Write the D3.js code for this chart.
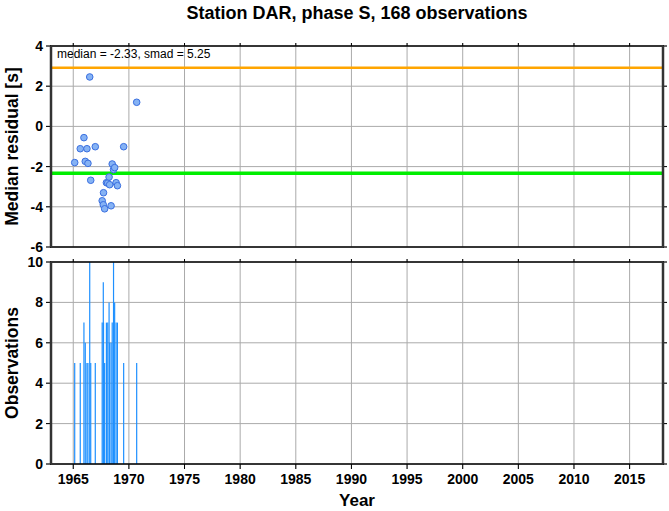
<!DOCTYPE html>
<html><head><meta charset="utf-8">
<script src="https://cdn.jsdelivr.net/npm/d3@7"></script>
<style>body{margin:0;background:#fff}svg{display:block}text{font-family:"Liberation Sans",Arial,sans-serif}</style>
</head><body>
<script>
const titleText = "Station DAR, phase S, 168 observations";
const years   = [1965.13,1965.63,1965.96,1966.08,1966.23,1966.32,1966.48,1966.57,1966.98,1967.60,1967.70,1967.72,1967.82,1967.98,1968.10,1968.22,1968.27,1968.40,1968.50,1968.62,1968.72,1968.85,1968.97,1969.53,1970.70];
const medians = [-1.80,-1.11,-0.56,-1.74,-1.11,-1.84,2.46,-2.68,-1.01,-3.70,-3.90,-3.30,-4.10,-2.80,-2.82,-2.52,-2.90,-3.95,-1.87,-2.15,-2.05,-2.80,-2.95,-1.01,1.20];
const counts  = [5,5,7,6,5,5,10,5,5,7,9,7,5,7,7,8,6,6,7,10,8,7,7,5,5];
const medianAll = -2.33, smad = 5.25;
const xTicks = [1965,1970,1975,1980,1985,1990,1995,2000,2005,2010,2015];
const yTicksTop = [4,2,0,-2,-4,-6];
const yTicksBot = [0,2,4,6,8,10];

const W=669,H=511, L=51, R=663;
const svg=d3.select("body").append("svg").attr("width",W).attr("height",H);
const x=d3.scaleLinear().domain([1963,2018]).range([L,R]);
const yT=d3.scaleLinear().domain([-6,4]).range([247,46]);
const yB=d3.scaleLinear().domain([0,10]).range([464,262]);

function panel(y, ticks, showX){
  const g=svg.append("g");
  const [y0,y1]=y.range();
  g.selectAll(".gx").data(xTicks).join("line").attr("x1",d=>x(d)).attr("x2",d=>x(d)).attr("y1",y1-3).attr("y2",y0+(showX?5:0)).attr("stroke","#aaa").attr("stroke-width",1);
  g.selectAll(".gy").data(ticks).join("line").attr("x1",L-5).attr("x2",R+4).attr("y1",d=>y(d)).attr("y2",d=>y(d)).attr("stroke","#aaa").attr("stroke-width",1);
  return g;
}
function frame(y, ticks, showX){
  const [y0,y1]=y.range();
  const g=svg.append("g");
  g.selectAll(".tl").data(ticks).join("line").attr("x1",L-5).attr("x2",L).attr("y1",d=>y(d)).attr("y2",d=>y(d)).attr("stroke","#000").attr("stroke-width",1);
  g.selectAll(".tr").data(ticks).join("line").attr("x1",R).attr("x2",R+4).attr("y1",d=>y(d)).attr("y2",d=>y(d)).attr("stroke","#000").attr("stroke-width",1);
  g.selectAll(".tt").data(xTicks).join("line").attr("x1",d=>x(d)).attr("x2",d=>x(d)).attr("y1",y1-3).attr("y2",y1).attr("stroke","#000").attr("stroke-width",1);
  if(showX) g.selectAll(".tb").data(xTicks).join("line").attr("x1",d=>x(d)).attr("x2",d=>x(d)).attr("y1",y0).attr("y2",y0+5).attr("stroke","#000").attr("stroke-width",1);
  g.append("line").attr("x1",L-1).attr("x2",R+1).attr("y1",y1).attr("y2",y1).attr("stroke","#000").attr("stroke-width",1.5);
  g.append("line").attr("x1",L-1).attr("x2",R+1).attr("y1",y0).attr("y2",y0).attr("stroke","#000").attr("stroke-width",1.5);
  g.append("line").attr("x1",L).attr("x2",L).attr("y1",y1).attr("y2",y0).attr("stroke","#333").attr("stroke-width",2.5);
  g.append("line").attr("x1",R).attr("x2",R).attr("y1",y1).attr("y2",y0).attr("stroke","#333").attr("stroke-width",2.5);
  g.selectAll(".lab").data(ticks).join("text").attr("x",L-8).attr("y",d=>y(d)+5).attr("text-anchor","end")
    .attr("font-size",14).attr("font-weight","bold").text(d=>d);
  if(showX) g.selectAll(".xl").data(xTicks).join("text").attr("x",d=>x(d)).attr("y",y0+20).attr("text-anchor","middle")
    .attr("font-size",14).attr("font-weight","bold").text(d=>d);
}

panel(yT,yTicksTop,false);
svg.append("line").attr("x1",L).attr("x2",R).attr("y1",yT(medianAll+smad)).attr("y2",yT(medianAll+smad)).attr("stroke","#ffa500").attr("stroke-width",2.5);
svg.append("line").attr("x1",L).attr("x2",R).attr("y1",yT(medianAll)).attr("y2",yT(medianAll)).attr("stroke","#00ee00").attr("stroke-width",3.5);
svg.append("g").selectAll("circle").data(years.map((d,i)=>[d,medians[i]])).join("circle")
  .attr("cx",d=>x(d[0])).attr("cy",d=>yT(d[1])).attr("r",3.3).attr("fill","#85b2f4").attr("stroke","#3a6fe0").attr("stroke-width",1);
frame(yT,yTicksTop,false);
svg.append("text").attr("x",57).attr("y",58).attr("font-size",12).text(`median = ${medianAll}, smad = ${smad}`);

panel(yB,yTicksBot,true);
svg.append("g").selectAll("line").data(years.map((d,i)=>[d,counts[i]])).join("line")
  .attr("x1",d=>x(d[0])).attr("x2",d=>x(d[0])).attr("y1",yB(0)).attr("y2",d=>yB(d[1]))
  .attr("stroke","#1e90ff").attr("stroke-width",1.2);
frame(yB,yTicksBot,true);

svg.append("text").attr("x",(L+R)/2).attr("y",19).attr("text-anchor","middle").attr("font-size",18).attr("font-weight","bold").text(titleText);
svg.append("text").attr("x",(L+R)/2).attr("y",506).attr("text-anchor","middle").attr("font-size",17).attr("font-weight","bold").text("Year");
svg.append("text").attr("transform",`translate(18,${(46+247)/2}) rotate(-90)`).attr("text-anchor","middle").attr("font-size",17.5).attr("font-weight","bold").text("Median residual [s]");
svg.append("text").attr("transform",`translate(18,${(262+464)/2}) rotate(-90)`).attr("text-anchor","middle").attr("font-size",17.5).attr("font-weight","bold").text("Observations");
</script>
</body></html>
